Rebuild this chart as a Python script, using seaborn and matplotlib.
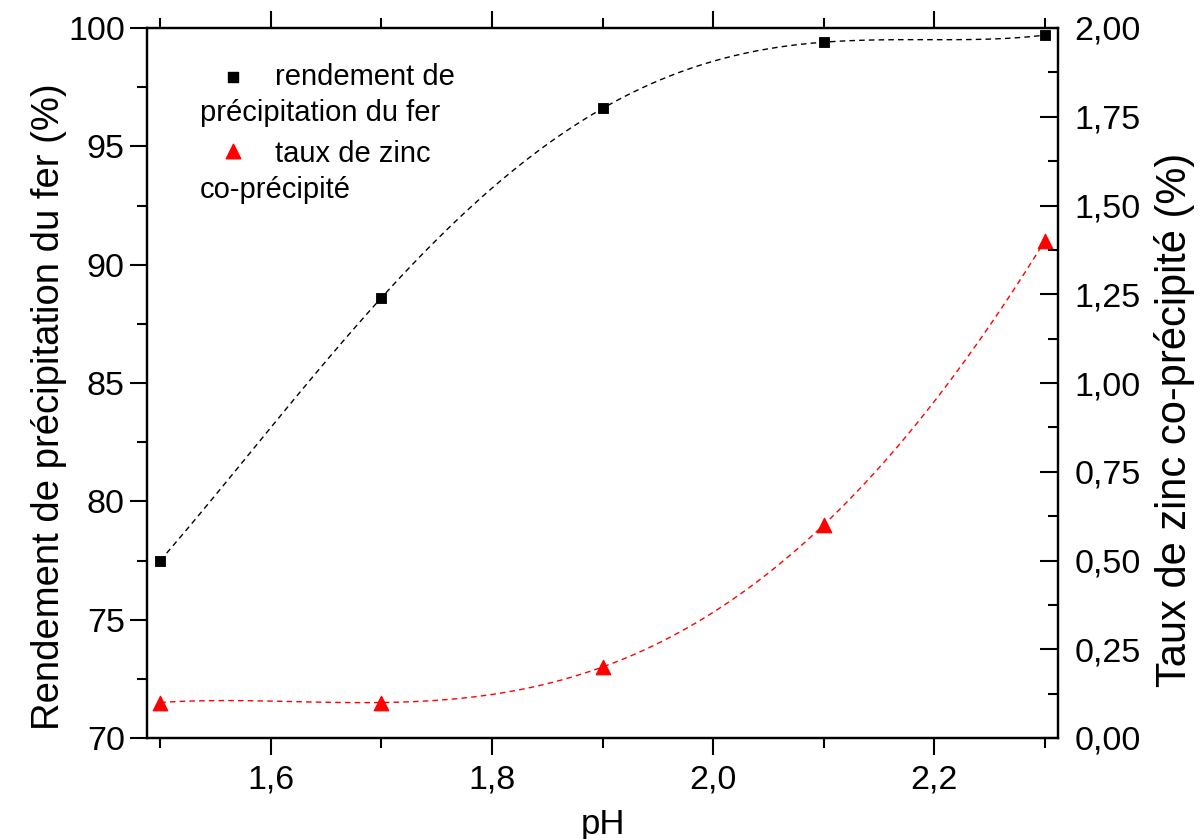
import numpy as np
import matplotlib
matplotlib.use('Agg')
import matplotlib.pyplot as plt
import seaborn as sns
from matplotlib.ticker import MultipleLocator, FuncFormatter

# Data
PH = [1.5, 1.7, 1.9, 2.1, 2.3]
FER_YIELD = [77.5, 88.6, 96.6, 99.4, 99.7]
ZINC_RATE = [0.10, 0.10, 0.20, 0.60, 1.40]

LEGEND_FER = ['rendement de', 'précipitation du fer']
LEGEND_ZINC = ['taux de zinc', 'co-précipité']

sns.set_style('white')
plt.rcParams['font.family'] = ['Liberation Sans', 'DejaVu Sans']
for key in ('text.color', 'axes.labelcolor', 'xtick.color', 'ytick.color'):
    plt.rcParams[key] = 'black'

W, H = 1201, 839
fig = plt.figure(figsize=(W / 100, H / 100), dpi=100)
ax = fig.add_axes([147 / W, 1 - 738 / H, (1058 - 147) / W, (738 - 28) / H])
ax2 = ax.twinx()


def comma(fmt):
    return FuncFormatter(lambda v, p: (fmt % v).replace('.', ','))


# iron precipitation (left axis)
sns.regplot(x=PH, y=FER_YIELD, order=4, ci=None, scatter=False, ax=ax,
            line_kws=dict(color='black', lw=1, ls=(0, (4, 3))))
sns.scatterplot(x=PH, y=FER_YIELD, marker='s', s=60, color='black',
                edgecolor='black', ax=ax, zorder=5)

# zinc co-precipitation (right axis)
sns.regplot(x=PH, y=ZINC_RATE, order=4, ci=None, scatter=False, ax=ax2,
            line_kws=dict(color='red', lw=1, ls=(0, (4, 3))))
sns.scatterplot(x=PH, y=ZINC_RATE, marker='^', s=110, color='red',
                edgecolor='red', ax=ax2, zorder=5)

ax.set_xlim(1.488, 2.312)
ax.set_ylim(70, 100)
ax2.set_ylim(0, 2)

ax.xaxis.set_major_locator(MultipleLocator(0.2))
ax.xaxis.set_minor_locator(MultipleLocator(0.1))
ax.xaxis.set_major_formatter(comma('%.1f'))
ax.yaxis.set_major_locator(MultipleLocator(5))
ax.yaxis.set_minor_locator(MultipleLocator(2.5))
ax2.yaxis.set_major_locator(MultipleLocator(0.25))
ax2.yaxis.set_minor_locator(MultipleLocator(0.125))
ax2.yaxis.set_major_formatter(comma('%.2f'))

ax.tick_params(axis='x', which='both', direction='out', top=True, bottom=True,
               labeltop=False, labelsize=24.5, pad=7, width=1.5)
ax.tick_params(axis='y', which='both', direction='out', left=True, right=False,
               labelsize=24.5, pad=4, width=1.5)
ax.tick_params(which='major', length=12)
ax.tick_params(which='minor', length=7)
ax2.tick_params(axis='y', which='both', direction='in', right=True,
                labelsize=24.5, pad=12, width=1.5)
ax2.tick_params(which='major', length=13)
ax2.tick_params(which='minor', length=7)

for a in (ax, ax2):
    for sp in a.spines.values():
        sp.set_visible(True)
        sp.set_linewidth(1.6)
        sp.set_color('black')

ax.set_xlabel('pH', fontsize=25, labelpad=9)
ax.set_ylabel('Rendement de précipitation du fer (%)', fontsize=27.5, labelpad=1)
ax2.set_ylabel('Taux de zinc co-précipité (%)', fontsize=30, labelpad=9)
ax.yaxis.label.set_y(0.466)
ax2.yaxis.label.set_y(0.448)

# hand-drawn legend to keep the wrapped labels of the original
ax.scatter([233 / W], [1 - 77 / H], marker='s', s=60, color='black',
           transform=fig.transFigure, clip_on=False, zorder=6)
ax.scatter([233 / W], [1 - 151 / H], marker='^', s=110, color='red',
           transform=fig.transFigure, clip_on=False, zorder=6)
fs = 21
fig.text(275 / W, 1 - 77 / H, LEGEND_FER[0], fontsize=fs, va='center')
fig.text(200 / W, 1 - 113 / H, LEGEND_FER[1], fontsize=fs, va='center')
fig.text(275 / W, 1 - 154 / H, LEGEND_ZINC[0], fontsize=fs, va='center')
fig.text(200 / W, 1 - 190 / H, LEGEND_ZINC[1], fontsize=fs, va='center')

fig.savefig('out.png', dpi=100)
